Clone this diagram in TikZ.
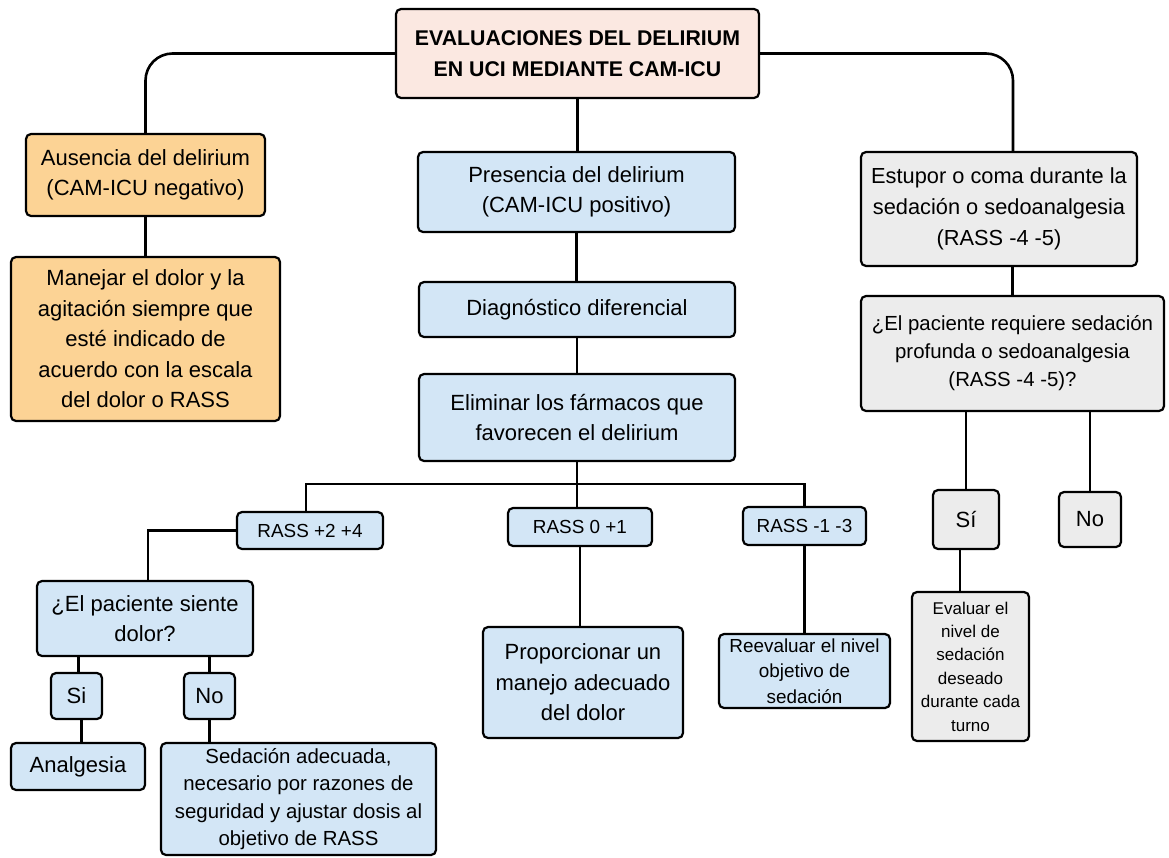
\documentclass[tikz,border=0pt]{standalone}
\usepackage{fontspec}
\setmainfont{Liberation Sans}
\definecolor{cTitle}{HTML}{FBE8E1}
\definecolor{cOrange}{HTML}{FCD395}
\definecolor{cBlue}{HTML}{D3E6F6}
\definecolor{cGrey}{HTML}{ECECEC}
\tikzset{
  box/.style={draw=black, line width=2.2pt, rounded corners=5pt, inner sep=0pt, align=center},
  orangebox/.style={box, fill=cOrange},
  bluebox/.style={box, fill=cBlue},
  greybox/.style={box, fill=cGrey},
  titlebox/.style={box, fill=cTitle},
  conn/.style={draw=black, line width=2.6pt},
  big/.style={font=\fontsize{22}{30.5}\selectfont},
  small/.style={font=\fontsize{18.9}{25.5}\selectfont},
  tiny/.style={font=\fontsize{17}{23.4}\selectfont},
}
\begin{document}
\begin{tikzpicture}[x=1pt,y=-1pt]
\useasboundingbox (0,0) rectangle (1169,857);
% nodes
\node[titlebox, minimum width=363, minimum height=89, font=\fontsize{21.3}{31}\selectfont\bfseries] (title) at (577.5,53.5) {EVALUACIONES DEL DELIRIUM\\EN UCI MEDIANTE CAM-ICU};
\node[orangebox, big, minimum width=239, minimum height=82] (aus) at (145.5,175) {Ausencia del delirium\\(CAM-ICU negativo)};
\node[orangebox, big, minimum width=269, minimum height=164] (man) at (145.5,339) {Manejar el dolor y la\\agitación siempre que\\esté indicado de\\acuerdo con la escala\\del dolor o RASS};
\node[bluebox, big, minimum width=317, minimum height=80] (pres) at (576.5,192) {Presencia del delirium\\(CAM-ICU positivo)};
\node[bluebox, big, minimum width=316, minimum height=55] (diag) at (577,309.5) {Diagnóstico diferencial};
\node[bluebox, big, minimum width=316, minimum height=87] (elim) at (577,417.5) {Eliminar los fármacos que\\favorecen el delirium};
\node[bluebox, small, minimum width=146, minimum height=37] (r24) at (310,530.5) {RASS +2 +4};
\node[bluebox, small, minimum width=144, minimum height=38] (r01) at (580,527) {RASS 0 +1};
\node[bluebox, small, minimum width=123, minimum height=38] (r13) at (804.5,526) {RASS -1 -3};
\node[bluebox, big, minimum width=216, minimum height=75] (dolor) at (145,618.5) {¿El paciente siente\\dolor?};
\node[bluebox, big, minimum width=51, minimum height=46] (si) at (76.5,696) {Si};
\node[bluebox, big, minimum width=51, minimum height=46] (no) at (209.5,696) {No};
\node[bluebox, big, minimum width=134, minimum height=47] (anal) at (78,766.5) {Analgesia};
\node[bluebox, font=\fontsize{20.4}{27.5}\selectfont, minimum width=275, minimum height=112] (sed) at (298.5,799) {Sedación adecuada,\\necesario por razones de\\seguridad y ajustar dosis al\\objetivo de RASS};
\node[bluebox, big, minimum width=200, minimum height=111] (prop) at (583,682.5) {Proporcionar un\\manejo adecuado\\del dolor};
\node[bluebox, small, minimum width=171, minimum height=74] (reev) at (804.5,671) {Reevaluar el nivel\\objetivo de\\sedación};
\node[greybox, font=\fontsize{21.8}{31}\selectfont, minimum width=276, minimum height=114] (est) at (999,209) {Estupor o coma durante la\\sedación o sedoanalgesia\\(RASS -4 -5)};
\node[greybox, font=\fontsize{20.4}{28}\selectfont, minimum width=303, minimum height=115] (req) at (1012.5,353.5) {¿El paciente requiere sedación\\profunda o sedoanalgesia\\(RASS -4 -5)?};
\node[greybox, big, minimum width=66, minimum height=59] (si2) at (966,519.5) {Sí};
\node[greybox, big, minimum width=62, minimum height=55] (no2) at (1090,519.5) {No};
\node[greybox, tiny, minimum width=117, minimum height=149] (eval) at (970.5,666.5) {Evaluar el\\nivel de\\sedación\\deseado\\durante cada\\turno};
% connectors
\draw[conn, rounded corners=27pt] (title.west) -| (aus.north);
\draw[conn, rounded corners=27pt] (title.east) -| ([xshift=14pt]est.north);
\draw[conn] (title.south) -- (title.south |- pres.north);
\draw[conn] (aus.south) -- (man.north);
\draw[conn] (pres.south) -- (pres.south |- diag.north);
\draw[conn] (diag.south) -- (diag.south |- elim.north);
\coordinate (bus) at (578,484);
\draw[conn] (elim.south) -- (elim.south |- r01.north);
\draw[conn] ([xshift=-4pt]r24.north) |- (bus) -| (r13.north);
\draw[conn] (r24.west) -| ([xshift=3pt]dolor.north);
\draw[conn] ([xshift=2pt]si.north) -- ([xshift=2pt]si.north |- dolor.south);
\draw[conn] (no.north) -- (no.north |- dolor.south);
\draw[conn] ([xshift=5pt]si.south) -- ([xshift=5pt]si.south |- anal.north);
\draw[conn] (no.south) -- (no.south |- sed.north);
\draw[conn] (r01.south) -- (r01.south |- prop.north);
\draw[conn] (r13.south) -- (r13.south |- reev.north);
\draw[conn] (req.north) -- (req.north |- est.south);
\draw[conn] (si2.north) -- (si2.north |- req.south);
\draw[conn] (no2.north) -- (no2.north |- req.south);
\draw[conn] ([xshift=-6pt]si2.south) -- ([xshift=-6pt]si2.south |- eval.north);
\end{tikzpicture}
\end{document}
